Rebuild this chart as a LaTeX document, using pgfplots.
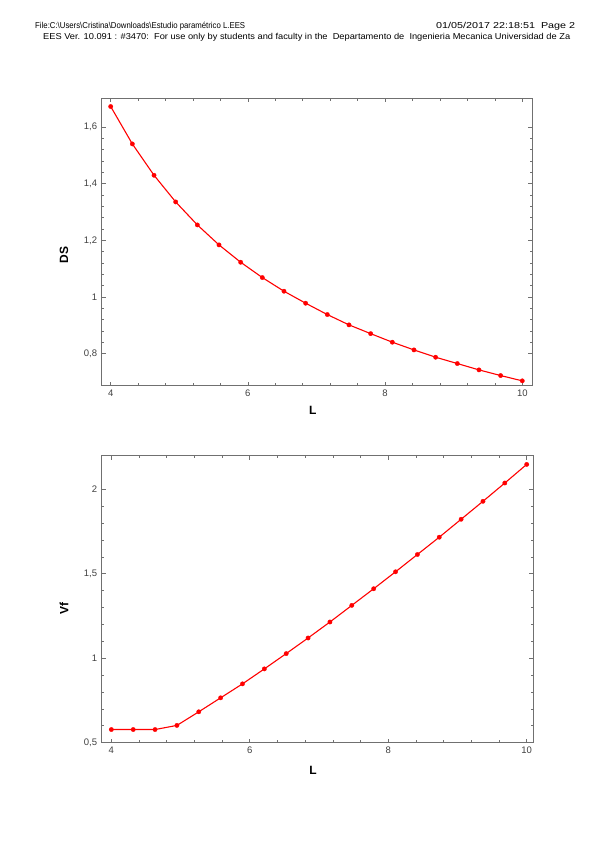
\documentclass[border=0pt]{standalone}
\usepackage{pgfplots}
\pgfplotsset{compat=1.18}
\usepackage{fontspec}
\setmainfont{Liberation Sans}
\usepackage{graphicx}
\definecolor{framegray}{HTML}{707070}
\definecolor{labgray}{HTML}{404040}
\pgfplotstableread{
L DS
4.0000 1.672
4.3158 1.540
4.6316 1.4295
4.9474 1.3354
5.2632 1.2543
5.5789 1.1838
5.8947 1.1226
6.2105 1.0685
6.5263 1.0203
6.8421 0.978
7.1579 0.938
7.4737 0.9016
7.7895 0.8707
8.1053 0.8405
8.4211 0.8133
8.7368 0.7875
9.0526 0.7652
9.3684 0.7428
9.6842 0.7228
10.0000 0.7041
}\dstable
\pgfplotstableread{
L Vf
4.0000 0.578
4.3158 0.578
4.6316 0.578
4.9474 0.6024
5.2632 0.683
5.5789 0.7657
5.8947 0.8484
6.2105 0.937
6.5263 1.0276
6.8421 1.120
7.1579 1.2146
7.4737 1.313
7.7895 1.4114
8.1053 1.5118
8.4211 1.6142
8.7368 1.7165
9.0526 1.8228
9.3684 1.9291
9.6842 2.0374
10.0000 2.1476
}\vftable
\pgfplotsset{
  eesaxis/.style={
    scale only axis,
    axis line style={framegray, line width=0.9pt},
    tick style={framegray, line width=0.7pt},
    tick align=inside,
    major tick length=4pt,
    minor tick length=2.5pt,
    xtick={4,6,8,10},
    minor x tick num=4,
    minor y tick num=4,
    /pgf/number format/assume math mode=true,
    /pgf/number format/use comma,
    ticklabel style={font=\fontsize{9.5}{11}\selectfont, text=labgray},
    xlabel style={font=\fontsize{12}{14}\selectfont\bfseries},
    ylabel style={font=\fontsize{12}{14}\selectfont\bfseries},
    xticklabel style={yshift=-1pt},
    yticklabel style={xshift=-1pt},
  },
  eesline/.style={red, line width=1.1pt, mark=*, mark size=2.2pt, mark options={fill=red, draw=red, line width=0.3pt}},
}
\begin{document}
\begin{tikzpicture}
\path[use as bounding box] (0,0) rectangle (599pt,-848pt);
\node[anchor=base west, inner sep=0] at (35pt,-29pt) {\fontsize{8.6}{10}\selectfont\resizebox{210pt}{\height}{File:C:\textbackslash Users\textbackslash Cristina\textbackslash Downloads\textbackslash Estudio paramétrico L.EES}};
\node[anchor=base west, inner sep=0] at (436pt,-29pt) {\fontsize{8.6}{10}\selectfont\resizebox{139pt}{\height}{01/05/2017 22:18:51\ \ Page 2}};
\node[anchor=base west, inner sep=0] at (43pt,-39.5pt) {\fontsize{8.6}{10}\selectfont\resizebox{527pt}{\height}{EES Ver. 10.091 : \#3470:\ \ For use only by students and faculty in the\ \ Departamento de\ \ Ingenieria Mecanica Universidad de Za}};
\begin{axis}[eesaxis,
  at={(101.7pt,-385.7pt)}, anchor=south west,
  width=430.6pt, height=287.4pt,
  xmin=3.869, xmax=10.146, ymin=0.687, ymax=1.701,
  ytick={0.8,1,1.2,1.4,1.6},
  xlabel={L}, ylabel={DS},
  xlabel style={at={(axis description cs:0.49,-0.085)}, anchor=center},
  ylabel style={at={(axis description cs:-0.0875,0.455)}, anchor=center},
]
\addplot[eesline] table[x=L, y=DS] {\dstable};
\end{axis}
\begin{axis}[eesaxis,
  at={(101.7pt,-742.7pt)}, anchor=south west,
  width=431.3pt, height=287pt,
  xmin=3.861, xmax=10.091, ymin=0.5, ymax=2.199,
  ytick={0.5,1,1.5,2},
  xlabel={L}, ylabel={Vf},
  xlabel style={at={(axis description cs:0.49,-0.095)}, anchor=center},
  ylabel style={at={(axis description cs:-0.0875,0.466)}, anchor=center},
]
\addplot[eesline] table[x=L, y=Vf] {\vftable};
\end{axis}
\end{tikzpicture}
\end{document}
